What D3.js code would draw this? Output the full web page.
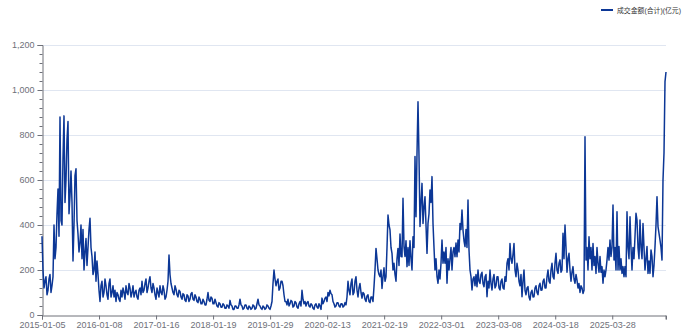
<!DOCTYPE html>
<html>
<head>
<meta charset="utf-8">
<script src="https://cdn.jsdelivr.net/npm/d3@7/dist/d3.min.js"></script>
<style>
  html, body { margin: 0; padding: 0; background: #fff; }
  svg { display: block; }
  text { font-family: "Liberation Sans", "Noto Sans CJK SC", sans-serif; }
</style>
</head>
<body>
<svg id="chart" width="692" height="336"></svg>
<script>
// ---- data ----
const seriesName = "成交金额(合计)(亿元)";
const tickLabels = ["2015-01-05","2016-01-08","2017-01-16","2018-01-19","2019-01-29",
  "2020-02-13","2021-02-19","2022-03-01","2023-03-08","2024-03-18","2025-03-28"];
const yTicks = [0, 200, 400, 600, 800, 1000, 1200];
const categoryCount = 2671;      // trading days on the category axis
const labelInterval = 244;       // a label every 244 trading days
// sampled values (亿元), evenly spaced over the trading days
const volume = [
  350,200,120,150,170,90,110,160,180,100,130,170,400,250,300,450,560,350,880,420,
  400,700,885,500,600,780,860,450,530,640,500,240,400,620,650,420,360,280,320,400,
  250,380,200,280,340,220,300,380,430,300,260,180,200,280,150,240,180,110,60,130,
  150,80,100,160,130,90,70,140,160,80,100,130,80,110,60,100,90,70,60,110,
  80,120,100,70,130,100,90,140,120,80,100,130,80,100,110,80,70,110,120,90,
  150,100,110,140,160,100,120,150,170,120,100,140,120,90,70,120,100,80,130,100,
  90,130,110,70,80,110,150,267,180,140,120,100,90,130,115,90,80,110,105,80,
  70,95,90,65,60,90,85,60,70,95,100,70,65,90,80,60,55,80,70,50,
  50,70,60,45,45,70,100,65,60,80,75,50,50,70,55,40,35,55,50,35,
  35,50,45,30,30,45,40,30,65,45,40,25,25,40,40,30,30,45,70,45,
  40,25,30,45,45,30,25,40,35,25,30,45,40,25,30,50,70,45,40,30,
  25,40,35,25,30,45,40,30,25,40,60,140,200,160,130,150,160,110,120,150,
  150,130,90,60,60,45,70,40,50,65,60,35,40,60,55,35,30,50,60,40,
  110,70,50,60,40,55,60,40,35,50,45,30,25,45,50,35,30,50,40,25,
  75,50,60,75,80,60,100,85,110,95,90,60,50,35,40,55,55,40,35,50,
  50,35,40,55,45,80,150,110,90,140,160,90,100,150,170,110,80,120,140,100,
  75,100,95,70,60,85,90,60,55,80,80,60,126,200,296,250,200,180,170,200,
  118,170,210,150,170,300,444,400,378,300,274,200,230,180,150,250,296,220,360,260,
  259,519,304,260,330,215,300,220,330,250,200,348,300,704,437,718,948,704,393,500,
  585,407,480,526,400,274,407,450,556,500,615,407,300,200,250,170,141,200,160,230,
  333,230,280,230,300,141,250,200,250,300,200,280,300,259,320,259,333,280,407,380,
  467,378,330,304,380,300,511,289,200,170,111,160,170,130,180,126,200,150,140,180,
  190,140,126,170,180,81,150,120,200,140,111,160,180,120,130,170,170,120,111,150,
  160,120,115,170,150,230,250,200,318,250,230,270,318,200,170,230,200,150,130,180,
  81,150,200,110,90,120,126,80,67,100,110,80,81,120,130,100,90,130,141,110,
  111,150,160,120,120,170,200,150,141,200,230,170,160,230,274,200,185,230,245,190,
  200,363,250,400,300,190,250,274,200,150,190,215,160,141,180,155,120,140,100,130,
  120,96,110,792,244,300,200,348,250,300,200,318,220,260,185,300,230,190,260,190,
  215,141,200,170,200,244,300,244,333,260,300,489,244,300,200,459,200,304,200,250,
  185,215,170,215,170,459,300,250,437,300,200,300,250,350,452,422,300,250,422,300,
  250,407,300,200,250,304,185,240,185,289,260,170,220,304,400,526,393,363,333,300,
  244,600,720,1037,1080
];

(function () {
// ---- layout ----
const svg = d3.select("#chart");
const mLeft = 42, mRight = 666, mTop = 45, mBottom = 315;
const axisColor = "#6E7079", gridColor = "#E0E6F1", lineColor = "#0C3796";

const x = d3.scaleLinear().domain([0, categoryCount - 1]).range([mLeft, mRight]);
const y = d3.scaleLinear().domain([0, 1200]).range([mBottom, mTop]);

// grid
svg.append("g").selectAll("line").data(yTicks.filter(d => d > 0)).join("line")
  .attr("x1", mLeft).attr("x2", mRight)
  .attr("y1", d => Math.round(y(d)) + 0.5).attr("y2", d => Math.round(y(d)) + 0.5)
  .attr("stroke", gridColor).attr("stroke-width", 1);

// y axis
const yAxis = d3.axisLeft(y).tickValues(yTicks).tickSize(5).tickPadding(3)
  .tickFormat(d3.format(","));
const gy = svg.append("g").attr("transform", `translate(${mLeft + 0.5},0)`).call(yAxis);
gy.select(".domain").attr("stroke", axisColor);
gy.selectAll(".tick line").attr("stroke", axisColor);
gy.selectAll(".tick text").attr("fill", axisColor).style("font-size", "9px");
// minor ticks
const minor = d3.range(0, 1201, 40).filter(v => v % 200 !== 0);
svg.append("g").selectAll("line").data(minor).join("line")
  .attr("x1", mLeft - 2.5).attr("x2", mLeft + 0.5)
  .attr("y1", d => Math.round(y(d)) + 0.5).attr("y2", d => Math.round(y(d)) + 0.5)
  .attr("stroke", axisColor).attr("stroke-width", 1);

// x axis
const xTickIdx = tickLabels.map((_, i) => i * labelInterval);
const xAxis = d3.axisBottom(x).tickValues(xTickIdx).tickSize(4).tickPadding(2)
  .tickFormat((d, i) => tickLabels[i]);
const gx = svg.append("g").attr("transform", `translate(0,${mBottom + 0.5})`).call(xAxis);
gx.select(".domain").attr("stroke", axisColor);
gx.selectAll(".tick line").attr("stroke", axisColor);
gx.selectAll(".tick text").attr("fill", axisColor).style("font-size", "9px");
gx.append("line").attr("x1", x(categoryCount - 1)).attr("x2", x(categoryCount - 1))
  .attr("y1", 0).attr("y2", 4).attr("stroke", axisColor);

// line
const step = (categoryCount - 1) / (volume.length - 1);
const line = d3.line().x((d, i) => x(i * step)).y(d => y(d));
svg.append("path").datum(volume).attr("d", line)
  .attr("fill", "none").attr("stroke", lineColor).attr("stroke-width", 1.5)
  .attr("stroke-linejoin", "round");

// legend
const lg = svg.append("g");
lg.append("line").attr("x1", 601).attr("x2", 613).attr("y1", 10).attr("y2", 10)
  .attr("stroke", lineColor).attr("stroke-width", 2);
const lt = lg.append("text").attr("x", 617).attr("y", 10).attr("dominant-baseline", "central")
  .attr("fill", "#333").style("font-size", "9px").text(seriesName);
const w = lt.node().getComputedTextLength();
if (w > 64) lt.style("font-size", (9 * 64 / w).toFixed(2) + "px");
})();
</script>
</body>
</html>
